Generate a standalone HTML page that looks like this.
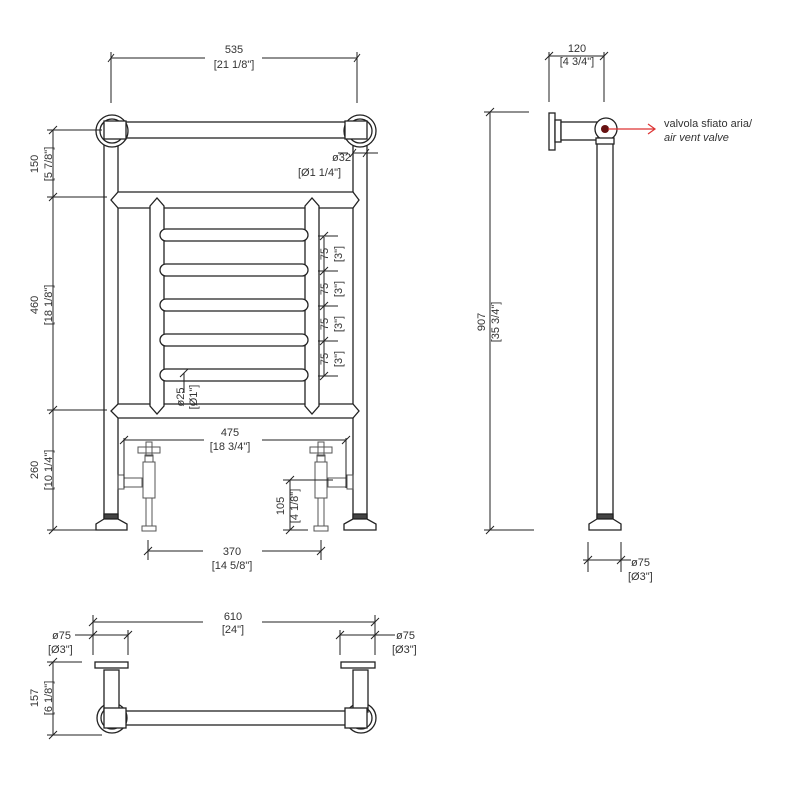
<!DOCTYPE html>
<html><head><meta charset="utf-8"><style>
html,body{margin:0;padding:0;background:#fff}
svg{display:block}
text{font-family:"Liberation Sans",sans-serif;font-size:11px;fill:#333}
</style></head><body>
<svg width="800" height="800" viewBox="0 0 800 800" xmlns="http://www.w3.org/2000/svg">
<g fill="none" stroke="#222" stroke-width="1.3">
<!-- FRONT VIEW -->
<!-- legs -->
<rect x="104" y="140" width="14" height="378" fill="#fff"/>
<rect x="353" y="140" width="14" height="378" fill="#fff"/>
<!-- top rail -->
<rect x="118" y="122" width="237" height="16" fill="#fff"/>
<circle cx="112" cy="131" r="16" fill="#fff"/><circle cx="112" cy="131" r="12"/>
<rect x="104" y="121" width="22" height="18" fill="#fff"/>
<circle cx="360" cy="131" r="16" fill="#fff"/><circle cx="360" cy="131" r="12"/>
<rect x="345" y="121" width="22" height="18" fill="#fff"/>
<!-- crossbars -->
<polygon points="118,192 353,192 359,200 353,208 118,208 111,200" fill="#fff"/>
<polygon points="118,404 353,404 359,411 353,418 118,418 111,411" fill="#fff"/>
<!-- inner verticals -->
<polygon points="150,206 157,198 164,206 164,406 157,414 150,406" fill="#fff"/>
<polygon points="305,206 312,198 319,206 319,406 312,414 305,406" fill="#fff"/>
<!-- bars -->
<g fill="#fff">
<rect x="160" y="229" width="148" height="12" rx="6"/>
<rect x="160" y="264" width="148" height="12" rx="6"/>
<rect x="160" y="299" width="148" height="12" rx="6"/>
<rect x="160" y="334" width="148" height="12" rx="6"/>
<rect x="160" y="369" width="148" height="12" rx="6"/>
</g>
<!-- feet -->
<rect x="104" y="514" width="14" height="5" fill="#444"/>
<path d="M104 519 L96 524 L96 530 L127 530 L127 524 L118 519Z" fill="#fff"/>
<rect x="353" y="514" width="14" height="5" fill="#444"/>
<path d="M353 519 L344 524 L344 530 L376 530 L376 524 L367 519Z" fill="#fff"/>
<!-- valves -->
<g stroke="#555" stroke-width="1">
<rect x="118" y="475" width="6" height="14"/><rect x="124" y="478" width="18" height="9"/>
<rect x="143" y="462" width="12" height="36"/><rect x="145" y="455" width="8" height="7"/>
<path d="M138 447 h22 v6 h-22z M146 442 h6 v14 h-6z"/>
<rect x="146" y="498" width="6" height="28"/><rect x="142" y="526" width="14" height="5"/>
<rect x="347" y="475" width="6" height="14"/><rect x="328" y="478" width="19" height="9"/>
<rect x="315" y="462" width="12" height="36"/><rect x="317" y="455" width="8" height="7"/>
<path d="M310 447 h22 v6 h-22z M318 442 h6 v14 h-6z"/>
<rect x="318" y="498" width="6" height="28"/><rect x="314" y="526" width="14" height="5"/>
</g>
</g>
<!-- dimension lines -->
<g stroke="#222" stroke-width="1" fill="none">
<line x1="111" y1="52" x2="111" y2="103"/><line x1="357" y1="52" x2="357" y2="103"/>
<line x1="111" y1="58" x2="205" y2="58"/><line x1="262" y1="58" x2="357" y2="58"/>
<path d="M108 62 l6 -8 M354 62 l6 -8"/>
<line x1="53" y1="130" x2="53" y2="530"/>
<path d="M47 130 h55 M47 197 h60 M47 410 h60 M47 530 h50"/>
<path d="M49 134 l8 -8 M49 201 l8 -8 M49 414 l8 -8 M49 534 l8 -8"/>
<path d="M353 153 h25 M338 153 h10"/><path d="M350 157 l6 -8 M363 157 l6 -8"/>
<line x1="324" y1="237" x2="324" y2="376"/>
<path d="M318 236 h20 M318 271 h20 M318 306 h20 M318 341 h20 M318 376 h20"/>
<path d="M320 240 l8-8 M320 275 l8-8 M320 310 l8-8 M320 345 l8-8 M320 380 l8-8"/>
<path d="M184 373 v20"/><path d="M180 377 l8-8"/>
<path d="M124 438 v50 M346 438 v50 M124 440 h80 M262 440 h84"/><path d="M120 444 l8-8 M342 444 l8-8"/>
<path d="M148 540 v20 M321 540 v20 M148 551 h55 M262 551 h59"/><path d="M144 555 l8-8 M317 555 l8-8"/>
<path d="M283 480 h50 M283 530 h25 M290 480 v50"/><path d="M286 484 l8-8 M286 534 l8-8"/>
<!-- side -->
<path d="M490 112 v418 M484 112 h45 M484 530 h50"/><path d="M486 116 l8-8 M486 534 l8-8"/>
<path d="M549 52 v50 M604 52 v50 M549 56 h55"/><path d="M545 60 l8-8 M600 60 l8-8"/>
<path d="M588 542 v30 M621 542 v30 M583 560 h48"/><path d="M584 564 l8-8 M617 564 l8-8"/>
<!-- bottom -->
<path d="M93 615 v40 M375 615 v40 M93 622 h110 M262 622 h113"/><path d="M89 626 l8-8 M371 626 l8-8"/>
<path d="M128 630 v25 M340 630 v25 M75 635 h53 M340 635 h55"/><path d="M89 639 l8-8 M124 639 l8-8 M336 639 l8-8 M371 639 l8-8"/>
<path d="M53 662 v73 M47 662 h35 M47 735 h55"/><path d="M49 666 l8-8 M49 739 l8-8"/>
</g>
<!-- side view drawing -->
<g fill="#fff" stroke="#222" stroke-width="1.3">
<rect x="597" y="135" width="16" height="383"/>
<rect x="549" y="113" width="6" height="37"/>
<rect x="555" y="120" width="6" height="22"/>
<rect x="561" y="122" width="37" height="18"/>
<circle cx="606" cy="129" r="11"/>
<rect x="596" y="138" width="18" height="6"/>
<rect x="597" y="514" width="16" height="5" fill="#444"/>
<path d="M597 519 L589 524 L589 530 L621 530 L621 524 L613 519Z"/>
</g>
<circle cx="605" cy="129" r="4" fill="#611"/>
<g stroke="#d33" stroke-width="1.2" fill="none"><path d="M608 129 H655 M648 124 l7 5 -7 5"/></g>
<!-- bottom view drawing -->
<g fill="#fff" stroke="#222" stroke-width="1.3">
<rect x="125" y="711" width="225" height="14"/>
<circle cx="112" cy="718" r="15"/><circle cx="112" cy="718" r="11"/>
<rect x="104" y="670" width="15" height="42"/>
<rect x="104" y="708" width="22" height="20"/>
<rect x="95" y="662" width="33" height="6"/>
<circle cx="361" cy="718" r="15"/><circle cx="361" cy="718" r="11"/>
<rect x="353" y="670" width="15" height="42"/>
<rect x="345" y="708" width="22" height="20"/>
<rect x="341" y="662" width="34" height="6"/>
</g>
<!-- texts -->
<g text-anchor="middle">
<text x="234" y="53">535</text><text x="234" y="68">[21 1/8"]</text>
<text x="230" y="436">475</text><text x="230" y="450">[18 3/4"]</text>
<text x="232" y="555">370</text><text x="232" y="569">[14 5/8"]</text>
<text x="577" y="52">120</text><text x="577" y="65">[4 3/4"]</text>
<text x="233" y="620">610</text><text x="233" y="633">[24"]</text>
</g>
<text x="332" y="161">ø32</text><text x="298" y="176">[Ø1 1/4"]</text>
<text x="631" y="566">ø75</text><text x="628" y="580">[Ø3"]</text>
<text x="52" y="639">ø75</text><text x="48" y="653">[Ø3"]</text>
<text x="396" y="639">ø75</text><text x="392" y="653">[Ø3"]</text>
<text x="664" y="127">valvola sfiato aria/</text>
<text x="664" y="141" font-style="italic">air vent valve</text>
<g>
<text transform="translate(38,164) rotate(-90)" text-anchor="middle">150</text>
<text transform="translate(52,164) rotate(-90)" text-anchor="middle">[5 7/8"]</text>
<text transform="translate(38,305) rotate(-90)" text-anchor="middle">460</text>
<text transform="translate(52,305) rotate(-90)" text-anchor="middle">[18 1/8"]</text>
<text transform="translate(38,470) rotate(-90)" text-anchor="middle">260</text>
<text transform="translate(52,470) rotate(-90)" text-anchor="middle">[10 1/4"]</text>
<text transform="translate(38,698) rotate(-90)" text-anchor="middle">157</text>
<text transform="translate(52,698) rotate(-90)" text-anchor="middle">[6 1/8"]</text>
<text transform="translate(485,322) rotate(-90)" text-anchor="middle">907</text>
<text transform="translate(499,322) rotate(-90)" text-anchor="middle">[35 3/4"]</text>
<text transform="translate(284,506) rotate(-90)" text-anchor="middle">105</text>
<text transform="translate(298,506) rotate(-90)" text-anchor="middle">[4 1/8"]</text>
<text transform="translate(184,397) rotate(-90)" text-anchor="middle">ø25</text>
<text transform="translate(197,397) rotate(-90)" text-anchor="middle">[Ø1"]</text>
<text transform="translate(328,254) rotate(-90)" text-anchor="middle">75</text>
<text transform="translate(342,254) rotate(-90)" text-anchor="middle">[3"]</text>
<text transform="translate(328,289) rotate(-90)" text-anchor="middle">75</text>
<text transform="translate(342,289) rotate(-90)" text-anchor="middle">[3"]</text>
<text transform="translate(328,324) rotate(-90)" text-anchor="middle">75</text>
<text transform="translate(342,324) rotate(-90)" text-anchor="middle">[3"]</text>
<text transform="translate(328,359) rotate(-90)" text-anchor="middle">75</text>
<text transform="translate(342,359) rotate(-90)" text-anchor="middle">[3"]</text>
</g>
</svg>
</body></html>
